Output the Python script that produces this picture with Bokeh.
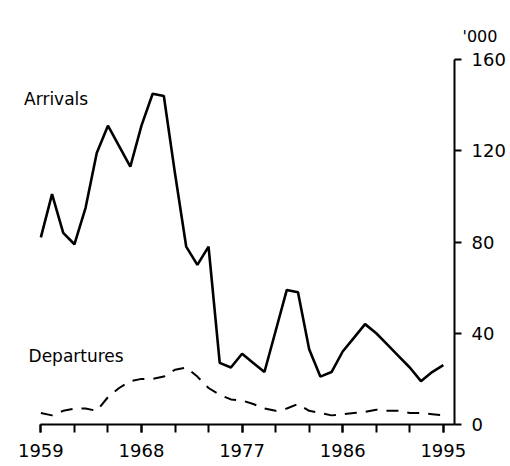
from bokeh.plotting import figure
from bokeh.models import Range1d, FixedTicker, Label
from bokeh.embed import file_html
from bokeh.resources import INLINE

years = [1959, 1960, 1961, 1962, 1963, 1964, 1965, 1966, 1967, 1968,
         1969, 1970, 1971, 1972, 1973, 1974, 1975, 1976, 1977, 1978,
         1979, 1980, 1981, 1982, 1983, 1984, 1985, 1986, 1987, 1988,
         1989, 1990, 1991, 1992, 1993, 1994, 1995]
arrivals = [82, 101, 84, 79, 95, 119, 131, 122, 113, 131,
            145, 144, 110, 78, 70, 78, 27, 25, 31, 27,
            23, 41, 59, 58, 33, 21, 23, 32, 38, 44,
            40, 35, 30, 25, 19, 23, 26]
departures = [5, 4, 6, 7, 7, 6, 12, 16, 19, 20,
              20, 21, 24, 25, 21, 16, 13, 11, 10.5, 9,
              7, 6, 7, 9, 6, 5, 4, 4.5, 5, 5.5,
              6.5, 6, 6, 5, 5, 4.5, 4]
x_ticks = [1959, 1968, 1977, 1986, 1995]
x_minor_ticks = [1959, 1962, 1965, 1968, 1971, 1974, 1977, 1980, 1983,
                 1986, 1989, 1992, 1995]
y_ticks = [0, 40, 80, 120, 160]

FONT = "DejaVu Sans"

p = figure(width=508, height=464, output_backend="svg", toolbar_location=None,
           x_range=Range1d(1957.0, 1996.0), y_range=Range1d(0, 160),
           y_axis_location="right",
           min_border_left=18, min_border_top=59,
           min_border_right=54, min_border_bottom=40)

p.title.text = "'000"
p.title.align = "left"
p.title.offset = 444
p.title.standoff = 28
p.title.text_font = FONT
p.title.text_font_size = "16px"
p.title.text_font_style = "normal"
p.title.text_color = "black"

p.line(years, arrivals, line_width=2.6, line_color="black")
p.line(years, departures, line_width=2, line_color="black", line_dash="12 9")

xa = p.xaxis[0]
xa.ticker = FixedTicker(ticks=x_ticks, minor_ticks=x_minor_ticks)
xa.bounds = (1958.95, 1996.0)
xa.axis_line_width = 2
xa.axis_line_color = "black"
xa.major_tick_line_width = 2
xa.major_tick_line_color = "black"
xa.major_tick_out = 8
xa.major_tick_in = 0
xa.minor_tick_line_width = 2
xa.minor_tick_line_color = "black"
xa.minor_tick_out = 8
xa.minor_tick_in = 0
xa.major_label_text_font = FONT
xa.major_label_text_font_size = "18px"
xa.major_label_text_color = "black"
xa.major_label_standoff = 11

ya = p.yaxis[0]
ya.ticker = FixedTicker(ticks=y_ticks)
ya.axis_line_width = 2
ya.axis_line_color = "black"
ya.major_tick_line_width = 2
ya.major_tick_line_color = "black"
ya.major_tick_out = 7
ya.major_tick_in = 0
ya.minor_tick_line_color = None
ya.major_label_text_font = FONT
ya.major_label_text_font_size = "18px"
ya.major_label_text_color = "black"
ya.major_label_standoff = 10

p.xgrid.grid_line_color = None
p.ygrid.grid_line_color = None
p.outline_line_color = None
p.background_fill_color = "white"
p.border_fill_color = "white"

p.add_layout(Label(x=1957.5, y=142.8, text="Arrivals", text_baseline="middle",
                   text_font=FONT, text_font_size="17px", text_color="black"))
p.add_layout(Label(x=1957.9, y=30.2, text="Departures", text_baseline="middle",
                   text_font=FONT, text_font_size="17px", text_color="black"))

open("out.html", "w").write(file_html(p, INLINE))
